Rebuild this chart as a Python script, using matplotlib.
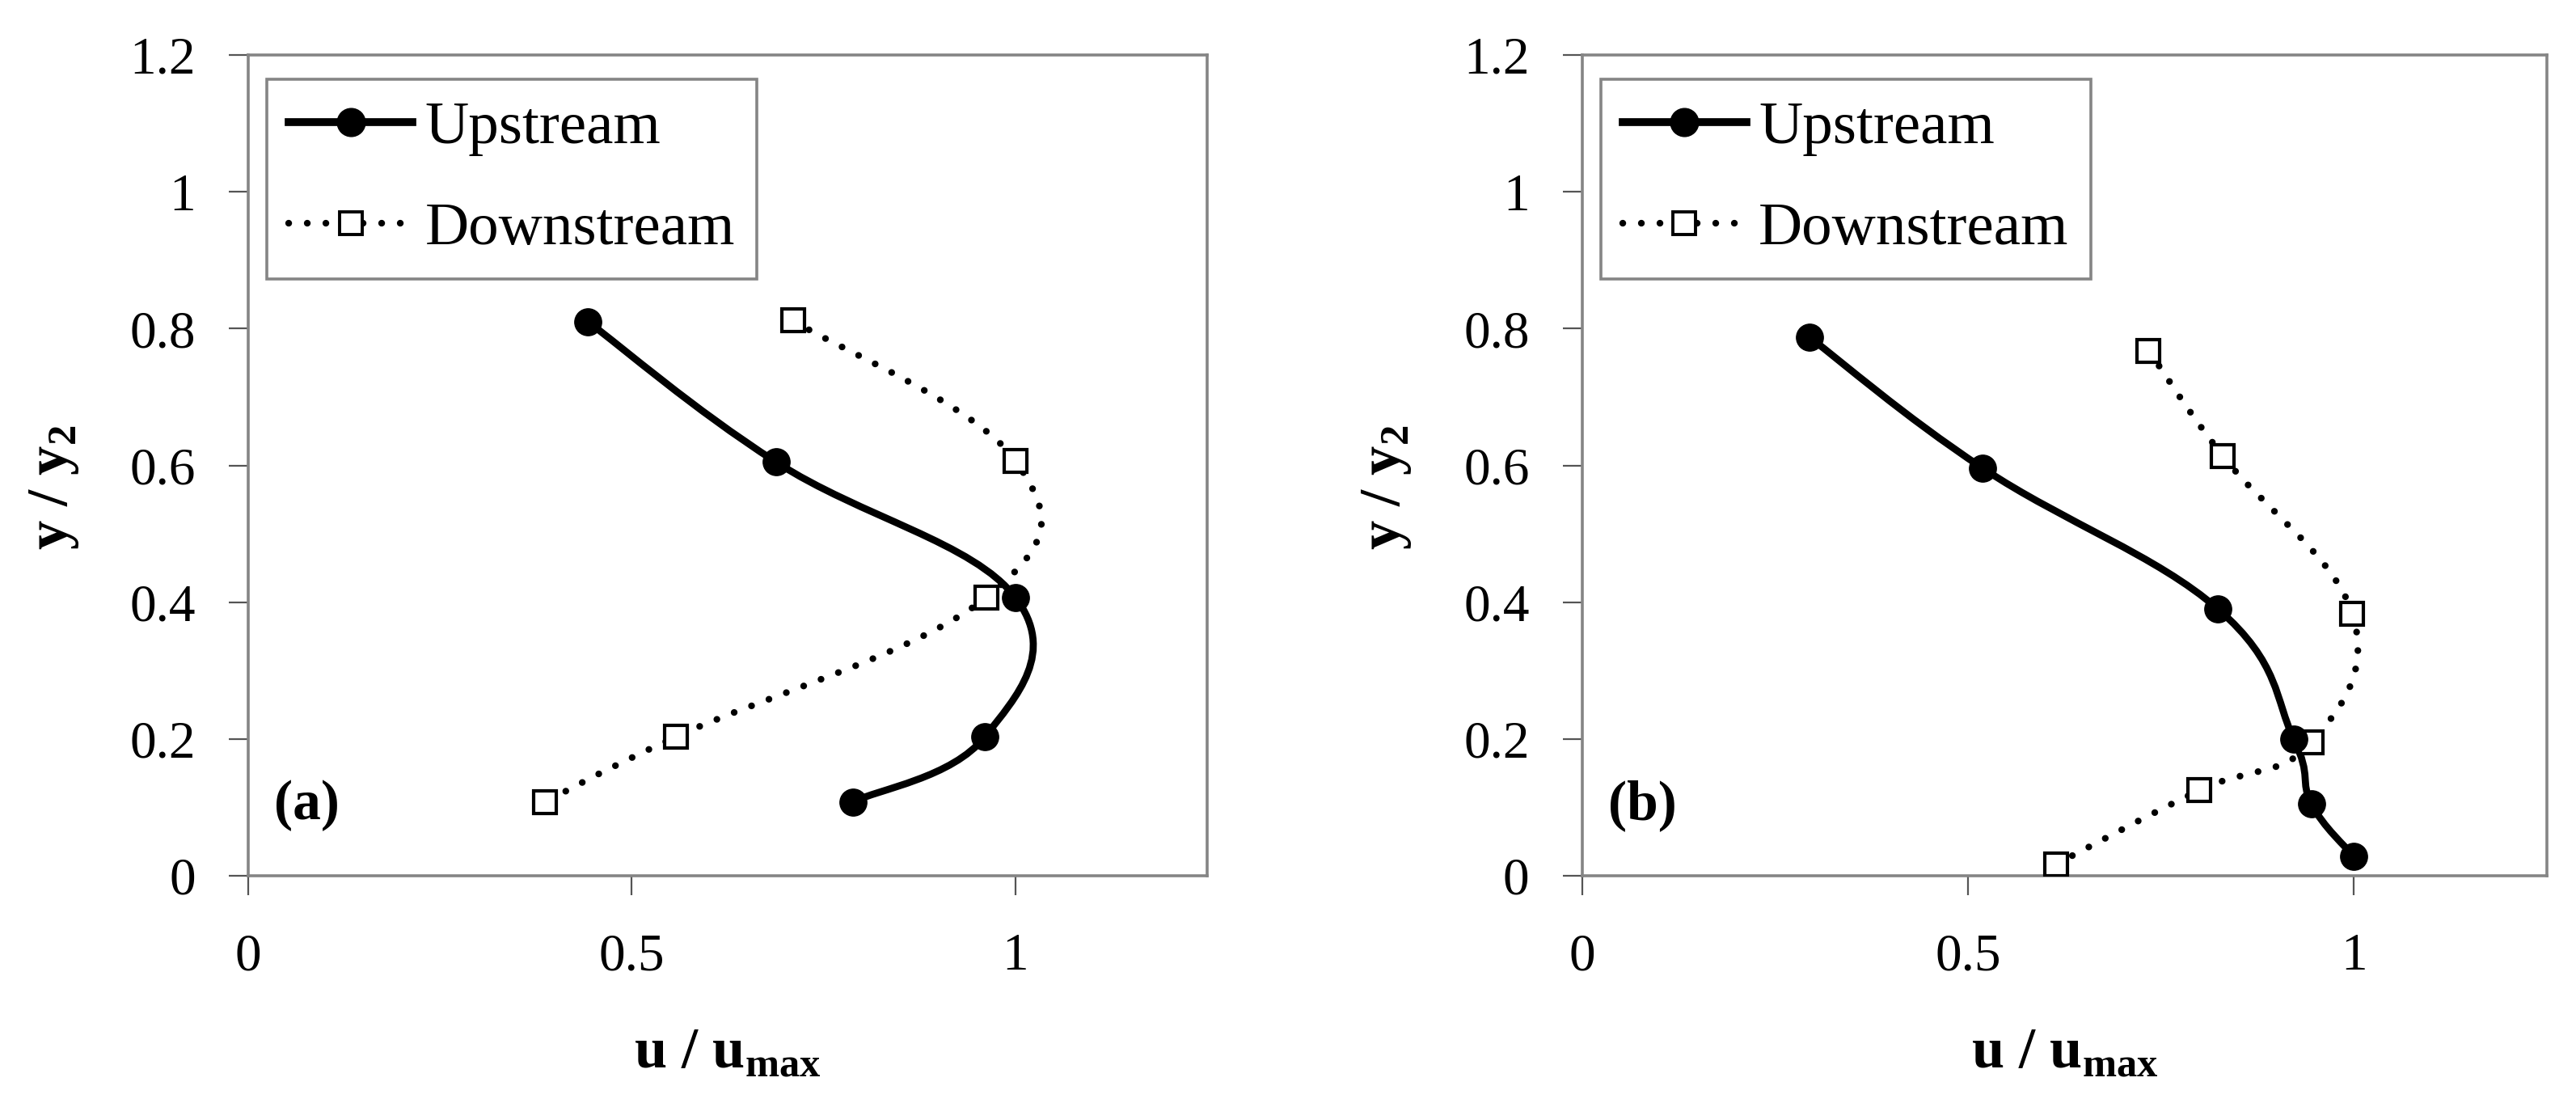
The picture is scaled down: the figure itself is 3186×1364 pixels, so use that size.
import matplotlib.pyplot as plt
import numpy as np
from matplotlib.lines import Line2D
from matplotlib.patches import PathPatch
from matplotlib.path import Path

plt.rcParams["font.family"] = ["Liberation Serif", "DejaVu Serif"]
plt.rcParams["mathtext.fontset"] = "custom"
plt.rcParams["mathtext.rm"] = "Liberation Serif"
plt.rcParams["mathtext.bf"] = "Liberation Serif:bold"

# panel (a)
up_a_x = [0.443, 0.688, 1.000, 0.960, 0.788]
up_a_y = [0.810, 0.605, 0.407, 0.203, 0.108]
down_a_x = [0.710, 1.000, 0.962, 0.557, 0.387]
down_a_y = [0.812, 0.607, 0.407, 0.203, 0.108]

# panel (b)
up_b_x = [0.295, 0.519, 0.824, 0.922, 0.945, 1.000]
up_b_y = [0.787, 0.596, 0.390, 0.200, 0.105, 0.028]
down_b_x = [0.734, 0.830, 0.998, 0.945, 0.800, 0.614]
down_b_y = [0.768, 0.614, 0.383, 0.195, 0.125, 0.017]

x_ticks = [0, 0.5, 1]
y_ticks = [0, 0.2, 0.4, 0.6, 0.8, 1, 1.2]
tick_labels_x = ["0", "0.5", "1"]
tick_labels_y = ["0", "0.2", "0.4", "0.6", "0.8", "1", "1.2"]

SPINE = "#858585"
DOTS = (0, (0.01, 2.75))


def smooth_path(x, y, k=0.2):
    # Excel-like smoothed line: cubic Bezier through every point
    p = np.column_stack([x, y])
    n = len(p)
    verts = [p[0]]
    codes = [Path.MOVETO]
    for i in range(n - 1):
        prev = p[max(i - 1, 0)]
        nxt = p[min(i + 2, n - 1)]
        c1 = p[i] + k * (p[i + 1] - prev)
        c2 = p[i + 1] - k * (nxt - p[i])
        verts += [c1, c2, p[i + 1]]
        codes += [Path.CURVE4] * 3
    return Path(verts, codes)


def panel(ax, ux, uy, dx, dy, tag):
    ax.add_patch(PathPatch(smooth_path(dx, dy), fill=False, ec="black",
                           lw=6, linestyle=DOTS, capstyle="round", zorder=2))
    ax.add_patch(PathPatch(smooth_path(ux, uy), fill=False, ec="black",
                           lw=6.3, zorder=3))
    ax.plot(dx, dy, ls="none", marker="s", ms=20, mfc="white", mec="black",
            mew=3, zorder=4)
    ax.plot(ux, uy, ls="none", marker="o", ms=24, color="black", zorder=5)

    ax.set_xlim(0, 1.25)
    ax.set_ylim(0, 1.2)
    ax.set_xticks(x_ticks, tick_labels_x)
    ax.set_yticks(y_ticks, tick_labels_y)
    ax.tick_params(direction="out", length=17, width=1.6, color="#555555",
                   labelsize=47, pad=30)
    ax.tick_params(axis="x", pad=34)
    for s in ax.spines.values():
        s.set_color(SPINE)
        s.set_linewidth(2.6)

    ax.set_xlabel("u / u$_{\\mathbf{max}}$", fontsize=52, fontweight="bold")
    ax.set_ylabel("y / y$_{\\mathbf{2}}$", fontsize=52, fontweight="bold")
    ax.xaxis.set_label_coords(0.5, -0.185)
    ax.yaxis.set_label_coords(-0.175, 0.473)
    ax.text(0.027, 0.086, tag, transform=ax.transAxes, fontsize=50,
            fontweight="bold", va="center", ha="left")

    handles = [
        Line2D([], [], color="black", lw=7, marker="o", ms=25),
        Line2D([], [], color="black", lw=6, linestyle=DOTS,
               dash_capstyle="round", marker="s", ms=20, mfc="white",
               mec="black", mew=2.8),
    ]
    leg = ax.legend(handles, ["Upstream", "Downstream"], loc="upper left",
                    bbox_to_anchor=(0.019, 0.971), borderaxespad=0,
                    fontsize=54, fancybox=False, framealpha=1,
                    edgecolor=SPINE, handlelength=2.05, handletextpad=0.2,
                    borderpad=0.36, labelspacing=0.75)
    leg.get_frame().set_linewidth(2.6)


fig = plt.figure(figsize=(31.86, 13.64), dpi=100)
ax1 = fig.add_axes([0.0964, 0.206, 0.3722, 0.744])
ax2 = fig.add_axes([0.6142, 0.206, 0.3745, 0.744])

panel(ax1, up_a_x, up_a_y, down_a_x, down_a_y, "(a)")
panel(ax2, up_b_x, up_b_y, down_b_x, down_b_y, "(b)")

fig.savefig("out.png", dpi=100)
